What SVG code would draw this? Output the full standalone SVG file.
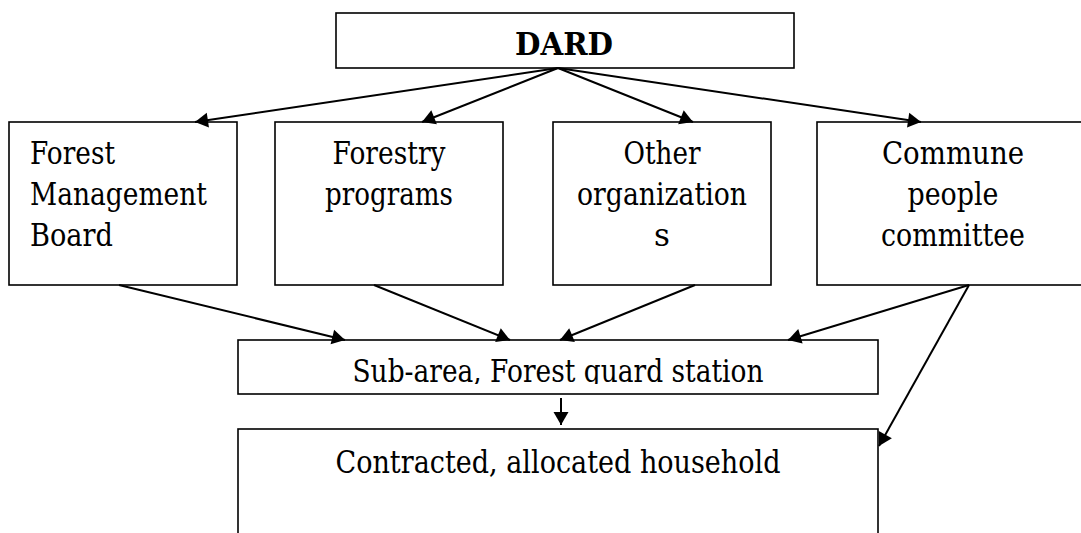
<svg xmlns="http://www.w3.org/2000/svg" width="1081" height="533" viewBox="0 0 1081 533">
<style>
.box{fill:#fff;stroke:#000;stroke-width:1.6}
text{font-family:"DejaVu Serif","Liberation Serif",serif;font-size:31px;fill:#000}
.c{text-anchor:middle}
.b{font-weight:bold}
.conn line{stroke:#000;stroke-width:2;marker-end:url(#ah)}
</style>
<defs>
<marker id="ah" markerUnits="userSpaceOnUse" markerWidth="14" markerHeight="16" refX="13" refY="7.5" orient="auto" overflow="visible">
<path d="M0,0 L13,7.5 L0,15 z" fill="#000"/>
</marker>
<clipPath id="subclip"><rect x="238" y="340" width="640" height="44"/></clipPath>
</defs>
<rect width="1081" height="533" fill="#fff"/>
<g id="dard">
<rect class="box" x="336" y="13" width="458" height="55"/>
<text class="c b" x="564" y="55" textLength="98" lengthAdjust="spacingAndGlyphs">DARD</text>
</g>
<g id="fmb">
<rect class="box" x="9" y="122" width="228" height="163"/>
<text x="30" y="164" textLength="85" lengthAdjust="spacingAndGlyphs">Forest</text>
<text x="30" y="205" textLength="177" lengthAdjust="spacingAndGlyphs">Management</text>
<text x="30" y="246" textLength="83" lengthAdjust="spacingAndGlyphs">Board</text>
</g>
<g id="fp">
<rect class="box" x="275" y="122" width="228" height="163"/>
<text class="c" x="389" y="164" textLength="113" lengthAdjust="spacingAndGlyphs">Forestry</text>
<text class="c" x="389" y="205" textLength="128" lengthAdjust="spacingAndGlyphs">programs</text>
</g>
<g id="oo">
<rect class="box" x="553" y="122" width="218" height="163"/>
<text class="c" x="662" y="164" textLength="77" lengthAdjust="spacingAndGlyphs">Other</text>
<text class="c" x="662" y="205" textLength="170" lengthAdjust="spacingAndGlyphs">organization</text>
<text class="c" x="662" y="246">s</text>
</g>
<g id="cpc">
<rect class="box" x="817" y="122" width="270" height="163"/>
<text class="c" x="953" y="164" textLength="142" lengthAdjust="spacingAndGlyphs">Commune</text>
<text class="c" x="953" y="205" textLength="91" lengthAdjust="spacingAndGlyphs">people</text>
<text class="c" x="953" y="246" textLength="144" lengthAdjust="spacingAndGlyphs">committee</text>
</g>
<g id="sub">
<rect class="box" x="238" y="340" width="640" height="54"/>
<text class="c" x="558" y="382" clip-path="url(#subclip)" textLength="411" lengthAdjust="spacingAndGlyphs">Sub-area, Forest guard station</text>
</g>
<g id="house">
<rect class="box" x="238" y="429" width="640" height="120"/>
<text class="c" x="558" y="473" textLength="445" lengthAdjust="spacingAndGlyphs">Contracted, allocated household</text>
</g>
<g id="connectors" class="conn">
<line x1="558" y1="68" x2="195" y2="122"/>
<line x1="558" y1="68" x2="422" y2="122"/>
<line x1="558" y1="68" x2="693" y2="122"/>
<line x1="558" y1="68" x2="921" y2="122"/>
<line x1="119" y1="285" x2="345" y2="340"/>
<line x1="374" y1="285" x2="510" y2="340"/>
<line x1="695" y1="285" x2="560" y2="340"/>
<line x1="969" y1="285" x2="788" y2="340"/>
<line x1="969" y1="285" x2="879" y2="446"/>
<line x1="561" y1="398" x2="561" y2="425"/>
</g>
</svg>
